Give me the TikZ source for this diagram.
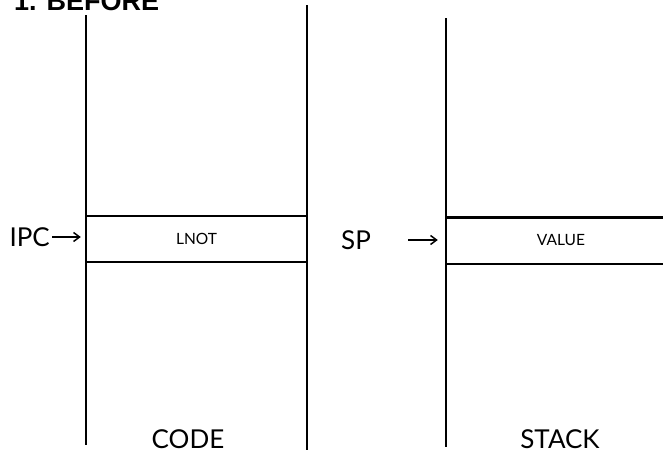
\documentclass[tikz,border=0pt]{standalone}
\usepackage{fontspec}
\setmainfont{Lato}
\newfontfamily\titlefont{Liberation Sans}
\usetikzlibrary{arrows.meta}
\begin{document}
\begin{tikzpicture}[x=1pt,y=-1pt,
  col/.style={line width=1.8pt},
  cellline/.style={line width=2.4pt},
  cell/.style={minimum width=#1, minimum height=46pt, inner sep=0pt, font=\fontsize{15.5}{15.5}\selectfont},
  big/.style={font=\fontsize{26}{26}\selectfont, inner sep=0pt},
  ptr/.style={line width=1.5pt, -{Straight Barb[length=6pt,width=9pt]}}]
\useasboundingbox (0,0) rectangle (663,455);
\clip (0,0) rectangle (663,455);
% title
\node[anchor=base west, inner sep=0pt, font=\titlefont\bfseries\fontsize{27}{27}\selectfont] (title) at (14,10) {1. BEFORE};
% columns
\draw[col] (86,15) -- (86,445);
\draw[col] (307,5) -- (307,450);
\draw[col] (446,18) -- (446,447);
% cells
\node[cell=221pt] (lnot) at (196.5,239) {LNOT};
\draw[cellline] (lnot.north west) -- (lnot.north east);
\draw[cellline] (lnot.south west) -- (lnot.south east);
\node[cell=230pt] (value) at (561,240.5) {VALUE};
\draw[cellline] (value.north west) -- (value.north east);
\draw[cellline] (value.south west) -- (value.south east);
% pointers
\node[big, anchor=east] (ipc) at (50,237) {IPC};
\draw[ptr] (ipc.east) ++(2,0) coordinate (ipcs) -- ([xshift=-5pt]lnot.west |- ipcs);
\node[big, anchor=west] (sp) at (341,240) {SP};
\coordinate (sps) at (408,240);
\draw[ptr] (sps) -- ([xshift=-8pt]value.west |- sps);
% labels
\node[big] (code) at (188,439) {CODE};
\node[big] (stack) at (560,439) {STACK};
\end{tikzpicture}
\end{document}
